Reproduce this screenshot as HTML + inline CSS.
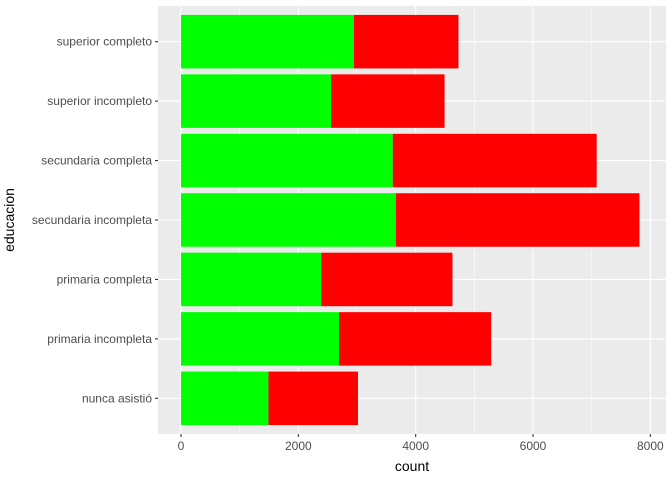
<!DOCTYPE html>
<html><head><meta charset="utf-8"><style>
body{margin:0;background:#fff}
svg text{font-family:"Liberation Sans",sans-serif}
</style></head><body>
<svg id="c" width="672" height="480"></svg>
<script>
const categories=["nunca asistió","primaria incompleta","primaria completa","secundaria incompleta","secundaria completa","superior incompleto","superior completo"];
const greenValues=[1491,2695,2390,3661,3610,2559,2949];
const redValues=[1526,2593,2237,4153,3475,1933,1780];
const xTicks=[0,2000,4000,6000,8000];
const ns="http://www.w3.org/2000/svg";
const svg=document.getElementById('c');
const L=158,R=666,T=6,B=434;
const x0=181,kx=0.05867;
const X=v=>x0+v*kx;
const band=(B-T)/7.2;
const Yc=i=>B-(0.6+i)*band;
function mk(t,a,p){const e=document.createElementNS(ns,t);for(const k in a)e.setAttribute(k,a[k]);(p||svg).appendChild(e);return e;}
const panel=mk('rect',{x:L,y:T,width:R-L,height:B-T,fill:'#ebebeb'});


for(let v=1000;v<9000;v+=2000){if(X(v)<R){const g=mk('line',{x1:X(v),x2:X(v),y1:T,y2:B,stroke:'#fff','stroke-width':0.55});}}
xTicks.forEach(v=>{const g=mk('line',{x1:X(v),x2:X(v),y1:T,y2:B,stroke:'#fff','stroke-width':1.1});
const t=mk('line',{x1:X(v),x2:X(v),y1:B,y2:B+3,stroke:'#333','stroke-width':1.1});
const l=mk('text',{x:X(v),y:B+16,'text-anchor':'middle','font-size':12,fill:'#4d4d4d'});l.textContent=v;});
categories.forEach((c,i)=>{const y=Yc(i);
const g=mk('line',{x1:L,x2:R,y1:y,y2:y,stroke:'#fff','stroke-width':1.1});
const h=band*0.9;
const gb=mk('rect',{x:X(0),y:y-h/2,width:greenValues[i]*kx,height:h,fill:'#00ff00'});
const rb=mk('rect',{x:X(greenValues[i]),y:y-h/2,width:redValues[i]*kx,height:h,fill:'#ff0000'});
const t=mk('line',{x1:L-3,x2:L,y1:y,y2:y,stroke:'#333','stroke-width':1.1});
const l=mk('text',{x:L-6,y:y+4,'text-anchor':'end','font-size':12,fill:'#4d4d4d'});l.textContent=c;});
const xt=mk('text',{x:(L+R)/2,y:471,'text-anchor':'middle','font-size':14,fill:'#000'});xt.textContent='count';


const yt=mk('text',{x:0,y:0,'text-anchor':'middle','font-size':14,fill:'#000',transform:`translate(14,${(T+B)/2}) rotate(-90)`});yt.textContent='educacion';


</script>
</body></html>
